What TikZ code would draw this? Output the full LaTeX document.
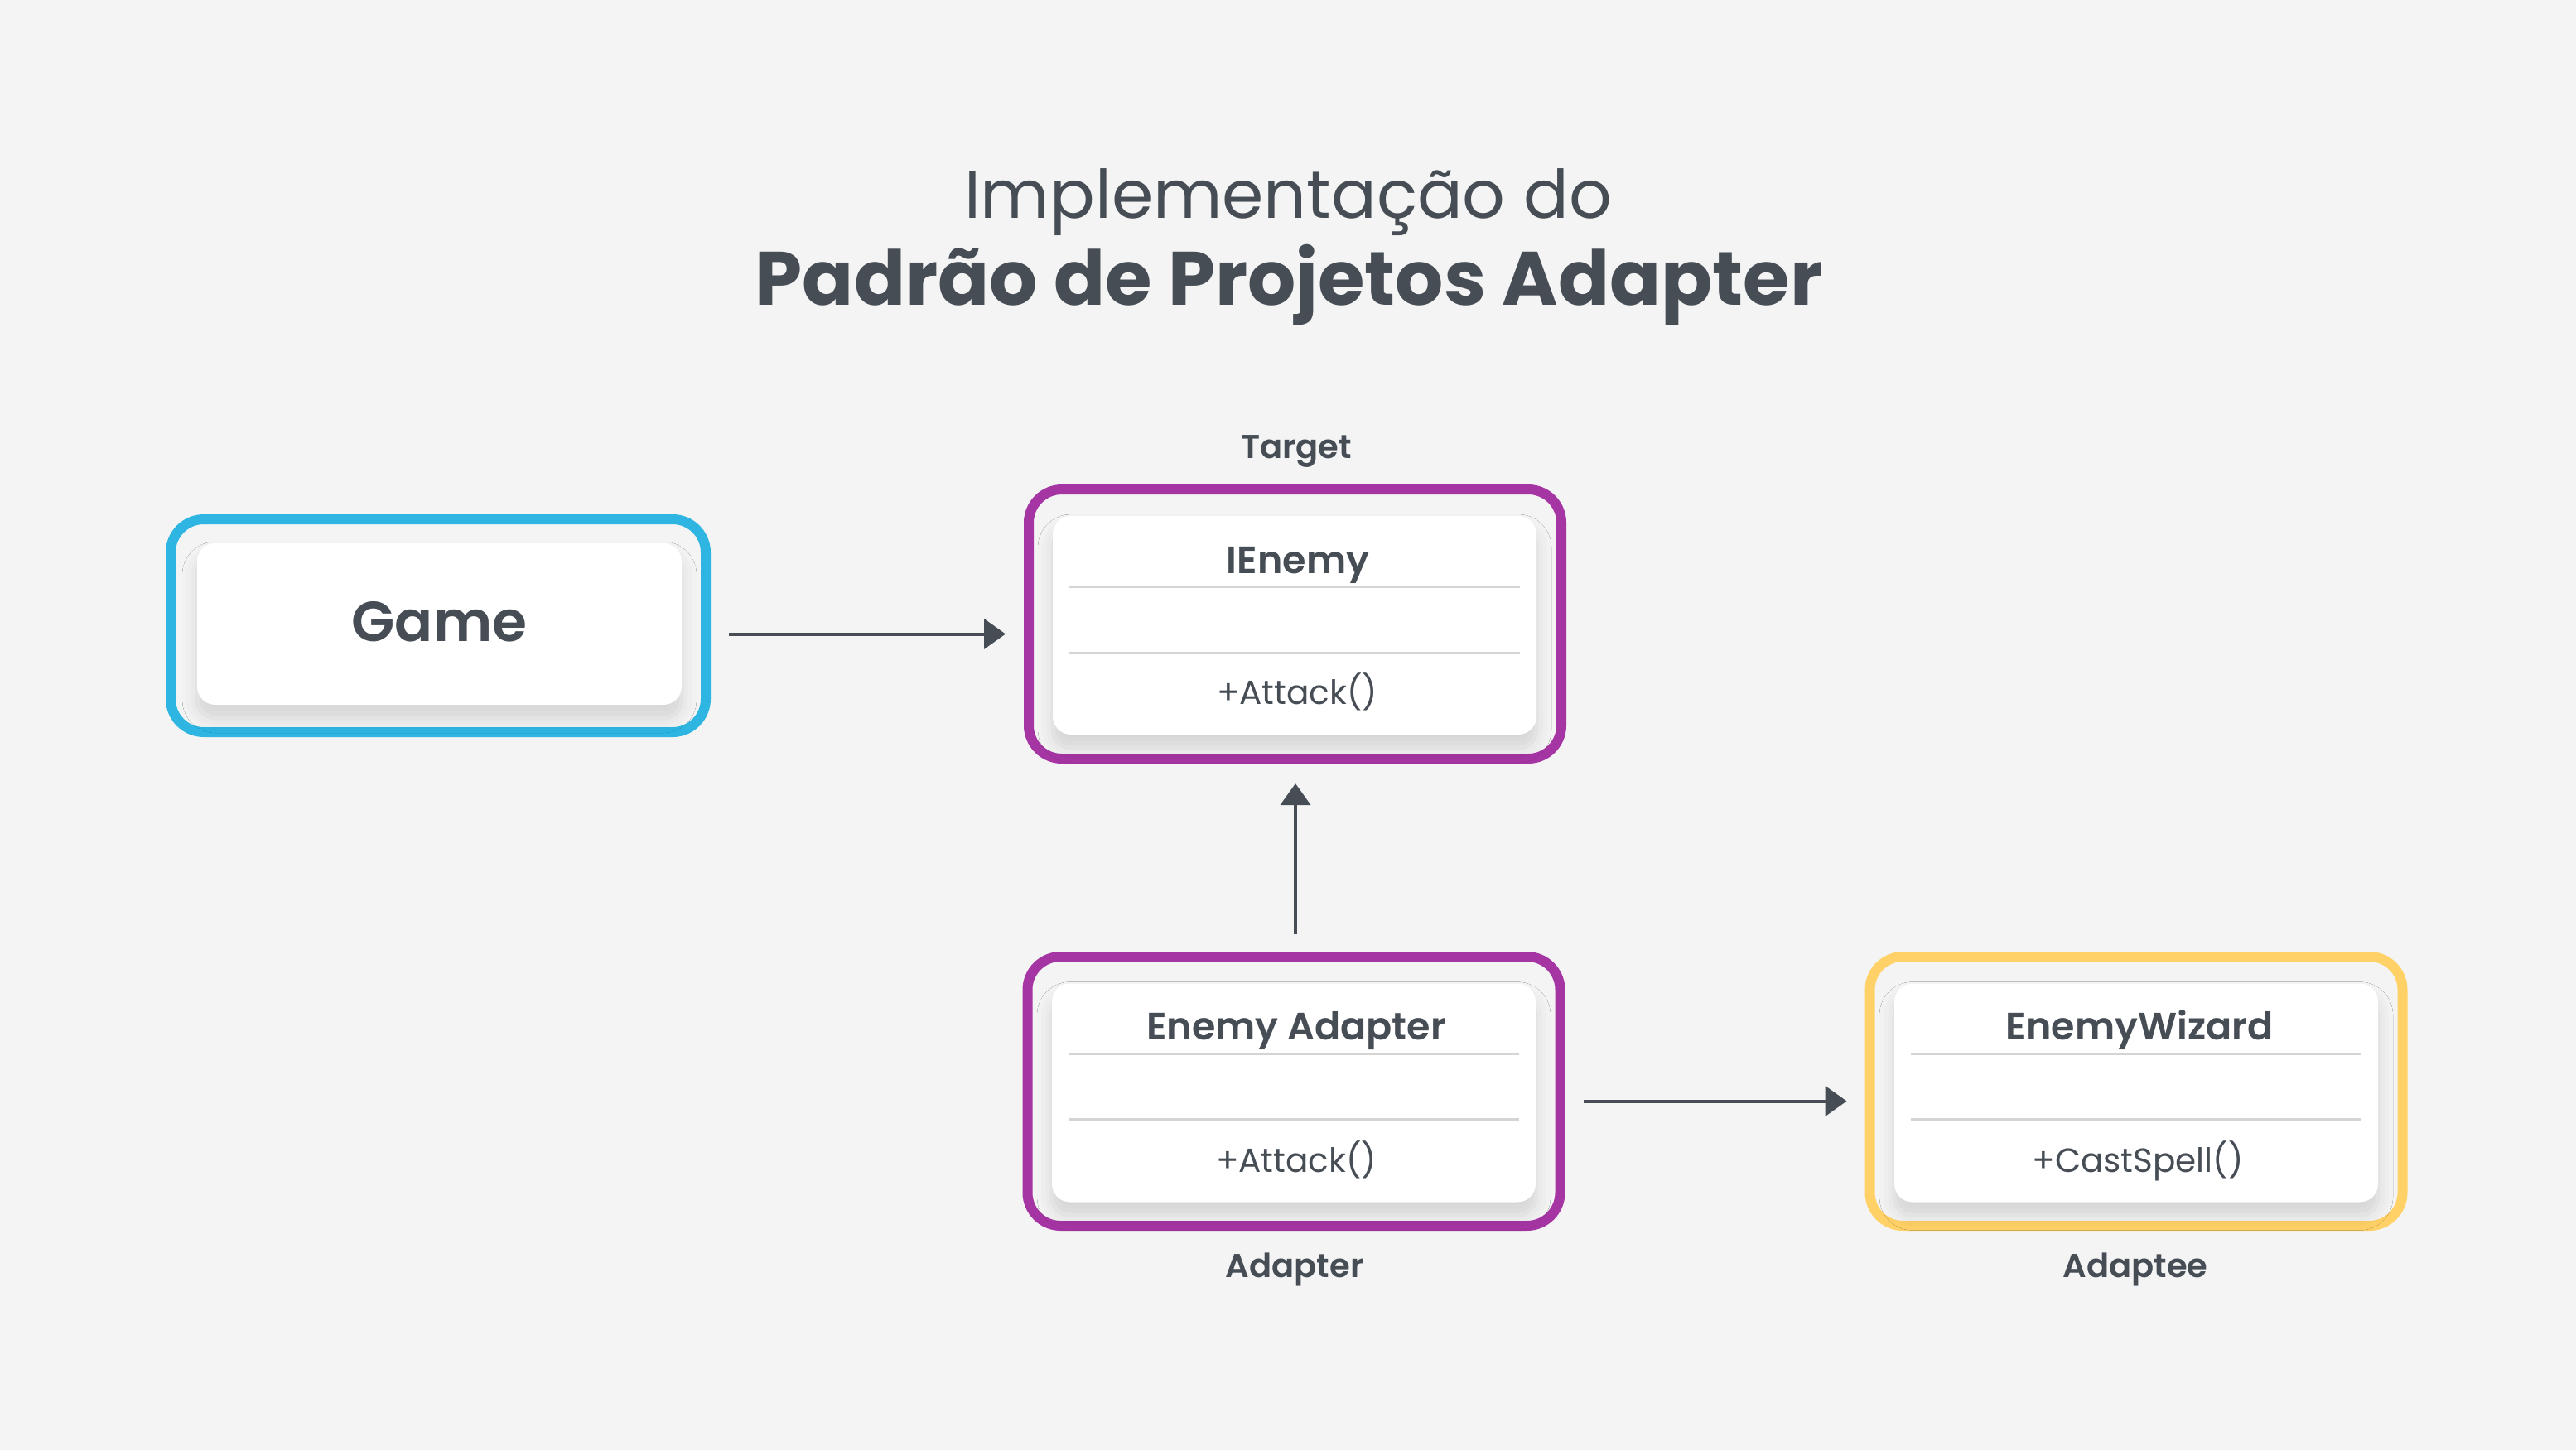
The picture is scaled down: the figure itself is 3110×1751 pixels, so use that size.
\documentclass[tikz,border=0pt]{standalone}
\usepackage{fontspec}
\setmainfont{Poppins}
\newfontfamily\popsemi{Poppins SemiBold}
\newfontfamily\popbold{Poppins Bold}
\usetikzlibrary{arrows.meta,shadows.blur}
\definecolor{bg}{HTML}{F4F4F4}
\definecolor{ink}{HTML}{464D55}
\definecolor{cblue}{HTML}{2EB5E2}
\definecolor{cpurple}{HTML}{A535A3}
\definecolor{cyellow}{HTML}{FFD166}
\definecolor{sepc}{HTML}{D4D4D4}
\begin{document}
\begin{tikzpicture}[x=1pt,y=-1pt,
  outerbox/.style={draw, line width=12pt, rounded corners=40pt, inner sep=0pt, minimum width=643pt, minimum height=325pt},
  innerbox/.style={fill=white, rounded corners=22pt, inner sep=0pt, minimum width=584pt, minimum height=264pt,
     blur shadow={shadow xshift=0pt, shadow yshift=-16pt, shadow blur radius=18pt, shadow opacity=13}},
  titletext/.style={text=ink, anchor=base, inner sep=0pt},
  classname/.style={text=ink, anchor=base, inner sep=0pt, font=\popsemi\fontsize{46}{50}\selectfont},
  methodtext/.style={text=ink, anchor=base, inner sep=0pt, font=\fontsize{40.5}{44}\selectfont},
  rolelabel/.style={text=ink, anchor=base, inner sep=0pt, font=\popsemi\fontsize{40}{44}\selectfont},
  sepline/.style={draw=sepc, line width=3pt},
  arr/.style={draw=ink, line width=4pt, -{Triangle[length=26pt,width=36pt]}}
]
\useasboundingbox (0,0) rectangle (3110,1751);
\fill[bg] (0,0) rectangle (3110,1751);

% title
\node[titletext, font=\fontsize{81}{85}\selectfont] (t1) at (1555,263) {Implementação do};
\node[titletext, font=\popbold\fontsize{91.5}{95}\selectfont] (t2) at (1556,368) {Padrão de Projetos Adapter};

% Game
\node[outerbox, draw=cblue, minimum width=646pt, minimum height=257pt] (game) at (529,755.5) {};
\node[innerbox, minimum width=585pt, minimum height=195pt] (gamein) at (530.5,753.5) {};
\node[titletext, font=\popsemi\fontsize{68}{72}\selectfont] (gametxt) at (530.5,774) {Game};

% IEnemy
\node[outerbox, draw=cpurple] (ienemy) at (1563.5,753.5) {};
\node[innerbox] (ienemyin) at (1563,755) {};
\node[classname] (ienemyname) at (1567,692) {IEnemy};
\coordinate (ie1a) at (1291,708); \coordinate (ie1b) at (1835,708);
\coordinate (ie2a) at (1291,788); \coordinate (ie2b) at (1835,788);
\draw[sepline] (ie1a) -- (ie1b);
\draw[sepline] (ie2a) -- (ie2b);
\node[methodtext] (ienemym) at (1566,850) {+Attack()};
\node[rolelabel] (target) at (1565,553) {Target};

% Enemy Adapter
\node[outerbox, draw=cpurple] (adapter) at (1562,1317.5) {};
\node[innerbox] (adapterin) at (1562,1319.5) {};
\node[classname] (adaptername) at (1565,1255) {Enemy Adapter};
\coordinate (ad1a) at (1290,1272); \coordinate (ad1b) at (1834,1272);
\coordinate (ad2a) at (1290,1351); \coordinate (ad2b) at (1834,1351);
\draw[sepline] (ad1a) -- (ad1b);
\draw[sepline] (ad2a) -- (ad2b);
\node[methodtext] (adapterm) at (1565,1415) {+Attack()};
\node[rolelabel] (adapterlbl) at (1563,1542) {Adapter};

% EnemyWizard
\node[outerbox, draw=cyellow] (wizard) at (2579,1317.5) {};
\node[innerbox] (wizardin) at (2579,1319.5) {};
\node[classname] (wizardname) at (2583,1255) {EnemyWizard};
\coordinate (wz1a) at (2307,1272); \coordinate (wz1b) at (2851,1272);
\coordinate (wz2a) at (2307,1351); \coordinate (wz2b) at (2851,1351);
\draw[sepline] (wz1a) -- (wz1b);
\draw[sepline] (wz2a) -- (wz2b);
\node[methodtext] (wizardm) at (2581,1415) {+CastSpell()};
\node[rolelabel] (wizardlbl) at (2578,1542) {Adaptee};

% connectors
\draw[arr, shorten <=22pt, shorten >=22pt] ([yshift=-10pt]game.east) -- ([yshift=-10pt]game.east -| ienemy.west);
\draw[arr, shorten <=21pt, shorten >=24pt] ([xshift=2pt]adapter.north) -- ([xshift=2pt]adapter.north |- ienemy.south);
\draw[arr, shorten <=22pt, shorten >=22pt] ([yshift=-12pt]adapter.east) -- ([yshift=-12pt]adapter.east -| wizard.west);
\end{tikzpicture}
\end{document}
